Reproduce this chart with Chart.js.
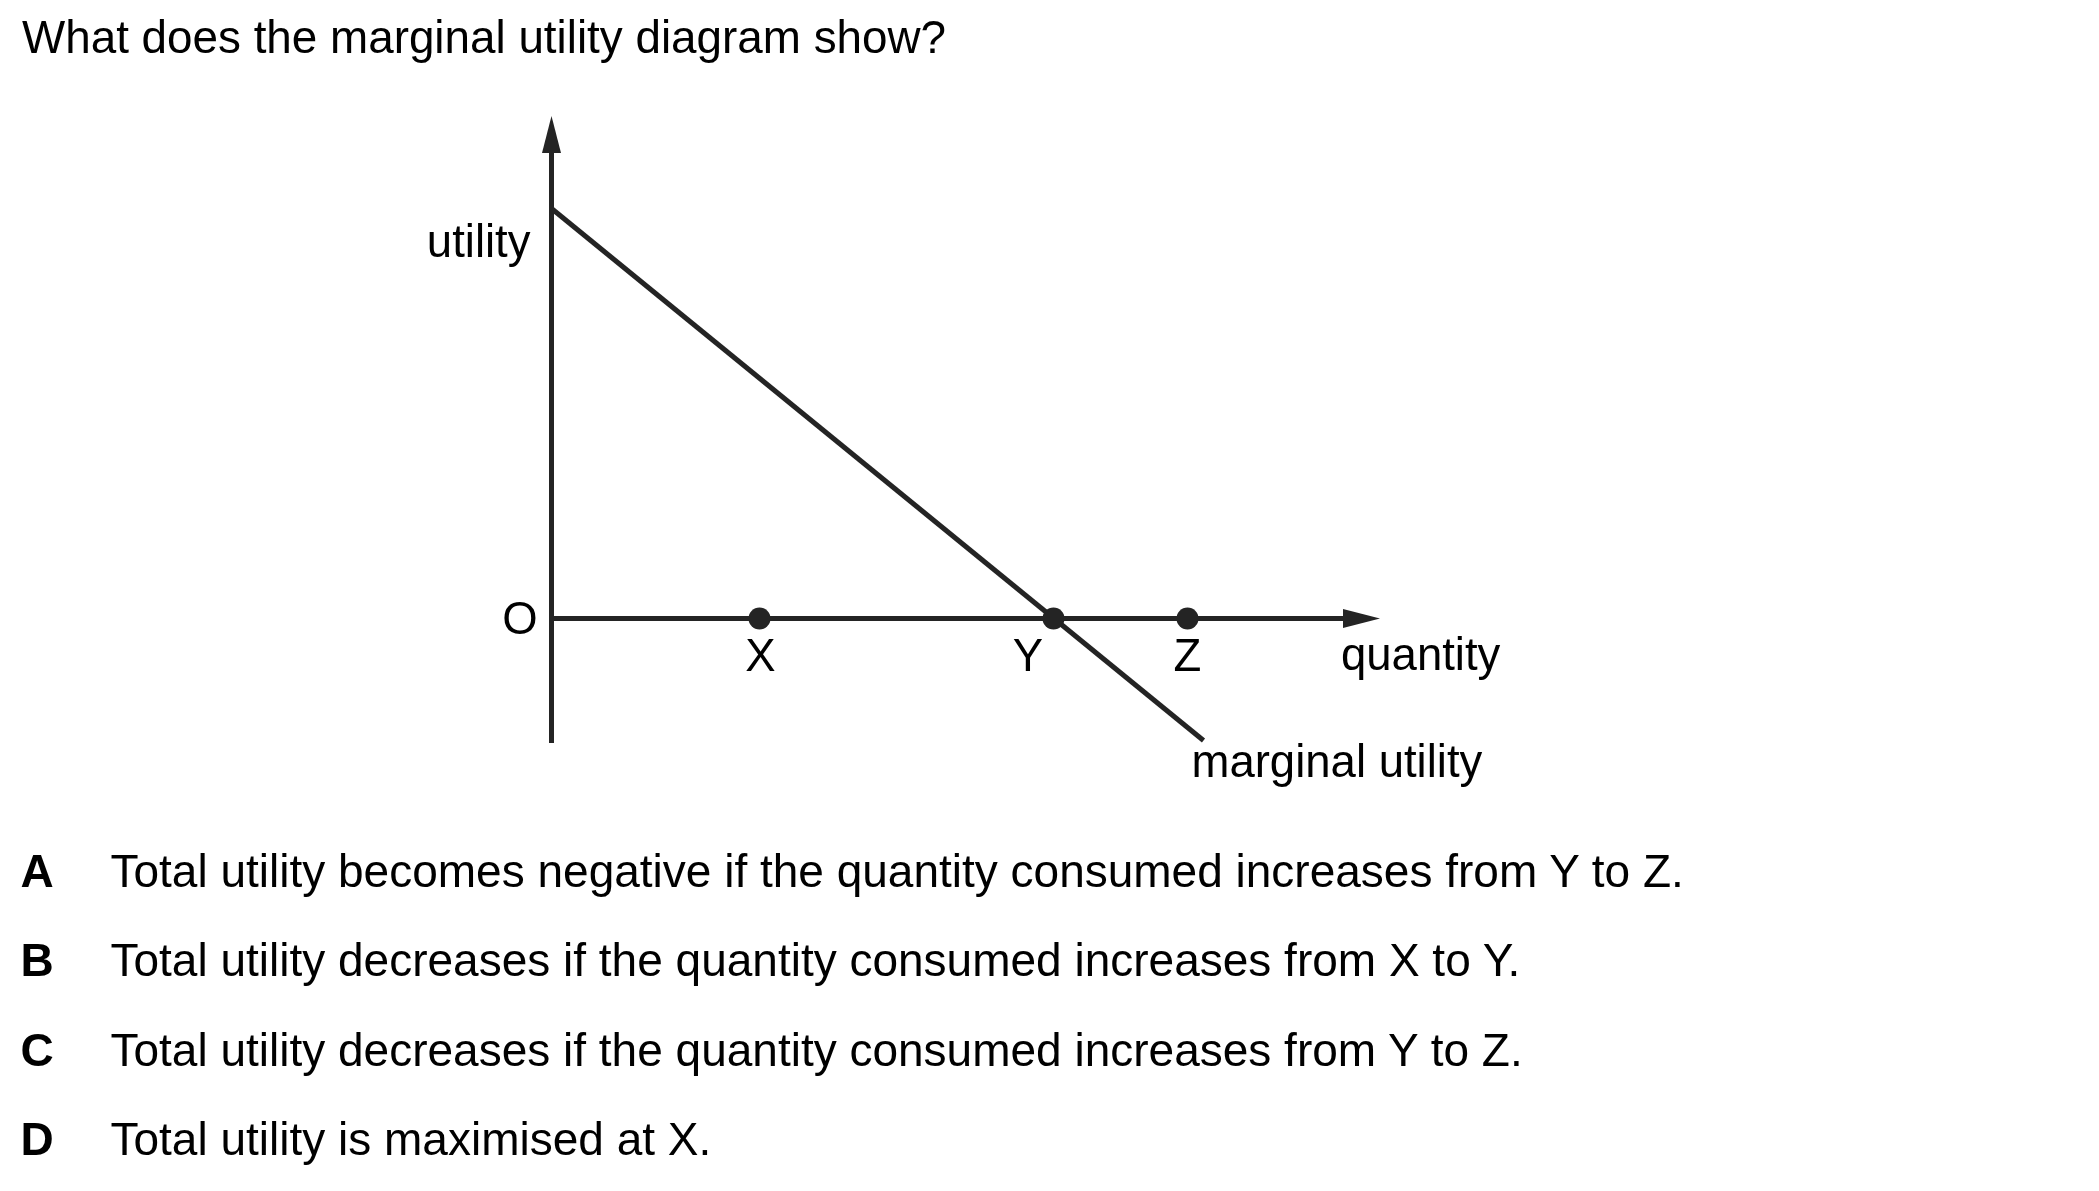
<!DOCTYPE html>
<html>
<head>
  <meta charset="utf-8">
  <title>Marginal utility diagram</title>
  <script src="https://cdn.jsdelivr.net/npm/chart.js"></script>
  <style>
    html, body {
      margin: 0;
      padding: 0;
      background: #fff;
      width: 2099px;
      height: 1191px;
      overflow: hidden;
      font-family: "Liberation Sans", Arial, sans-serif;
      color: #000;
    }
    #diagram {
      position: absolute;
      left: 0;
      top: 0;
    }
    .txt {
      position: absolute;
      font-size: 46px;
      line-height: 1;
      white-space: nowrap;
    }
    .letter { font-weight: bold; }
  </style>
</head>
<body>
  <canvas id="diagram" width="2099" height="1191"></canvas>

  <div class="txt" style="left:22px; top:14.5px; font-size:45.8px">What does the marginal utility diagram show?</div>

  <div id="answers"></div>

  <script>
    // ----- Diagram data (quantity / utility units) -----
    const muLine      = [{ x: 0, y: 4.1 }, { x: 6.52, y: -1.22 }];   // marginal utility curve
    const pointNames  = ["X", "Y", "Z"];
    const pointQty    = [2.08, 5.02, 6.36];
    const xAxisLine   = [{ x: 0, y: 0 }, { x: 7.93, y: 0 }];          // ends at arrow base
    const yAxisLine   = [{ x: 0, y: -1.245 }, { x: 0, y: 4.66 }];
    const xRange      = [0, 8.285];
    const yRange      = [-1.245, 5.025];
    const axisTitles  = ["quantity", "utility"];
    const curveName   = "marginal utility";
    const originName  = "O";

    // ----- Question answers -----
    const answerKeys  = ["A", "B", "C", "D"];
    const answerTexts = [
      "Total utility becomes negative if the quantity consumed increases from Y to Z.",
      "Total utility decreases if the quantity consumed increases from X to Y.",
      "Total utility decreases if the quantity consumed increases from Y to Z.",
      "Total utility is maximised at X."
    ];

    // answers as real text
    const answersBox = document.getElementById("answers");
    answerKeys.forEach((k, i) => {
      const top = 848 + i * 89.45;
      answersBox.insertAdjacentHTML("beforeend",
        '<div class="txt letter" style="left:20.5px; top:' + top + 'px">' + k + '</div>' +
        '<div class="txt" style="left:110.5px; top:' + top + 'px">' + answerTexts[i] + '</div>');
    });

    const ink = "#242424";
    const labelFont = '45.5px "Liberation Sans", Arial, sans-serif';

    // arrowheads + text labels placed from the scales
    const diagramDecor = {
      id: "diagramDecor",
      afterDatasetsDraw(chart) {
        const { ctx, scales: { x, y } } = chart;
        const x0 = x.getPixelForValue(0);
        const y0 = y.getPixelForValue(0);
        const xTip = x.getPixelForValue(xRange[1]);
        const yTip = y.getPixelForValue(yRange[1]);

        ctx.save();
        ctx.fillStyle = ink;
        // horizontal arrow
        ctx.beginPath();
        ctx.moveTo(xTip, y0);
        ctx.lineTo(xTip - 37, y0 - 9.5);
        ctx.lineTo(xTip - 37, y0 + 9.5);
        ctx.closePath();
        ctx.fill();
        // vertical arrow
        ctx.beginPath();
        ctx.moveTo(x0, yTip);
        ctx.lineTo(x0 - 9.5, yTip + 37);
        ctx.lineTo(x0 + 9.5, yTip + 37);
        ctx.closePath();
        ctx.fill();

        ctx.fillStyle = "#000";
        ctx.font = labelFont;
        ctx.textBaseline = "alphabetic";

        ctx.textAlign = "right";
        ctx.fillText(axisTitles[1], x0 - 21, yTip + 141);

        ctx.textAlign = "center";
        ctx.fillText(originName, x0 - 31.5, y0 + 15);

        const shift = { X: 1, Y: -25.5, Z: 0 };
        pointNames.forEach((n, i) => {
          ctx.fillText(n, x.getPixelForValue(pointQty[i]) + shift[n], y0 + 52);
        });

        ctx.textAlign = "left";
        ctx.fillText(axisTitles[0], xTip - 39, y0 + 51);

        const end = muLine[muLine.length - 1];
        ctx.fillText(curveName, x.getPixelForValue(end.x) - 12, y.getPixelForValue(end.y) + 36);
        ctx.restore();
      }
    };

    new Chart(document.getElementById("diagram").getContext("2d"), {
      type: "scatter",
      data: {
        datasets: [
          {
            label: "x axis",
            data: xAxisLine,
            showLine: true,
            borderColor: ink,
            borderWidth: 5,
            pointRadius: 0,
            clip: false
          },
          {
            label: "y axis",
            data: yAxisLine,
            showLine: true,
            borderColor: ink,
            borderWidth: 5,
            pointRadius: 0,
            clip: false
          },
          {
            label: curveName,
            data: muLine,
            showLine: true,
            borderColor: ink,
            borderWidth: 5,
            pointRadius: 0,
            clip: false
          },
          {
            label: "points",
            data: pointQty.map(q => ({ x: q, y: 0 })),
            showLine: false,
            pointRadius: 11,
            pointBackgroundColor: ink,
            pointBorderWidth: 0,
            clip: false
          }
        ]
      },
      options: {
        responsive: false,
        animation: false,
        events: [],
        layout: {
          padding: { left: 551.5, right: 719, top: 116, bottom: 448 }
        },
        scales: {
          x: { type: "linear", min: xRange[0], max: xRange[1], display: false },
          y: { type: "linear", min: yRange[0], max: yRange[1], display: false }
        },
        plugins: {
          legend: { display: false },
          tooltip: { enabled: false }
        }
      },
      plugins: [diagramDecor]
    });
  </script>
</body>
</html>
